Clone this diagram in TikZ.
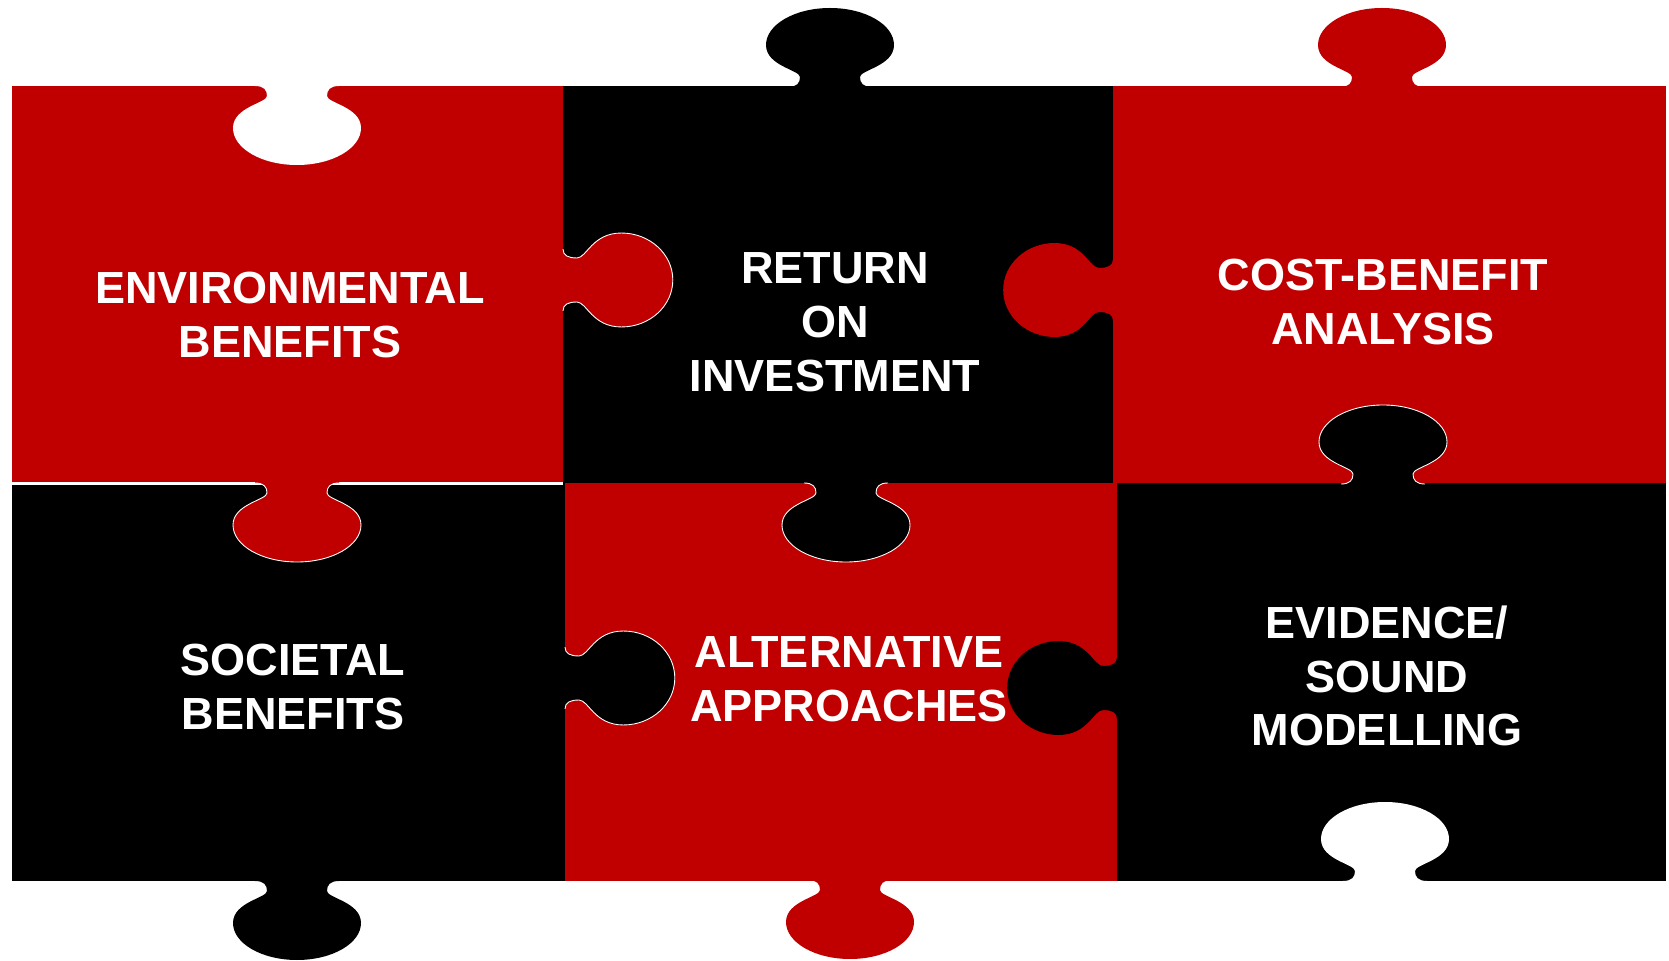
\documentclass[tikz,border=0pt]{standalone}
\usepackage{fontspec}
\setmainfont{Liberation Sans}
\definecolor{pred}{RGB}{192,0,0}
\begin{document}
\begin{tikzpicture}[x=0.01cm,y=-0.01cm,
  lbl/.style={text=white, font=\bfseries\fontsize{12.8}{15.3}\selectfont, align=center, inner sep=0pt},
  kdown/.style={shift={#1}},
  kup/.style={shift={#1}, rotate=180},
  kright/.style={shift={#1}, rotate=90, xscale=0.734, yscale=1.39},
  kleft/.style={shift={#1}, rotate=-90, xscale=0.734, yscale=1.39},
  edge/.style={draw=white, line width=0.25pt}]
\useasboundingbox (0,0) rectangle (1669,961);
\def\knobfill{(-42,-5) -- (-42,0) .. controls (-33,0) and (-30,4) .. (-30,10) .. controls (-30,17) and (-64,21) .. (-64,42) .. controls (-64,62.4) and (-35.3,79) .. (0,79) .. controls (35.3,79) and (64,62.4) .. (64,42) .. controls (64,21) and (30,17) .. (30,10) .. controls (30,4) and (33,0) .. (42,0) -- (42,-5) -- cycle}
\def\knobcurve{(-42,0) .. controls (-33,0) and (-30,4) .. (-30,10) .. controls (-30,17) and (-64,21) .. (-64,42) .. controls (-64,62.4) and (-35.3,79) .. (0,79) .. controls (35.3,79) and (64,62.4) .. (64,42) .. controls (64,21) and (30,17) .. (30,10) .. controls (30,4) and (33,0) .. (42,0)}
% pieces
\fill[pred] (12,86) rectangle (563,483);
\fill[black] (563,86) rectangle (1113,483);
\fill[pred] (1113,86) rectangle (1666,483);
\fill[black] (12,483) rectangle (565,881);
\fill[pred] (565,483) rectangle (1117,881);
\fill[black] (1117,483) rectangle (1666,881);
\draw[white, line width=0.6pt] (12,483.5) -- (563,483.5);
% outer knobs
\begin{scope}[kdown={(297,86)}] \fill[white] \knobfill; \end{scope}
\begin{scope}[kup={(830,87)}] \fill[black] \knobfill; \end{scope}
\begin{scope}[kup={(1382,87)}] \fill[pred] \knobfill; \end{scope}
\begin{scope}[kdown={(297,881)}] \fill[black] \knobfill; \end{scope}
\begin{scope}[kdown={(850,880)}] \fill[pred] \knobfill; \end{scope}
\begin{scope}[kup={(1385,881)}] \fill[white] \knobfill; \end{scope}
% inner knobs
\begin{scope}[kright={(563,280)}] \fill[pred] \knobfill; \draw[edge] \knobcurve; \end{scope}
\begin{scope}[kleft={(1113,290)}] \fill[pred] \knobfill; \end{scope}
\begin{scope}[kdown={(297,483)}] \fill[pred] \knobfill; \draw[edge] \knobcurve; \end{scope}
\begin{scope}[kdown={(846,483)}] \fill[black] \knobfill; \draw[edge] \knobcurve; \end{scope}
\begin{scope}[kup={(1383,484)}] \fill[black] \knobfill; \draw[edge] \knobcurve; \end{scope}
\begin{scope}[kright={(565,678)}] \fill[black] \knobfill; \draw[edge] \knobcurve; \end{scope}
\begin{scope}[kleft={(1117,688)}] \fill[black] \knobfill; \end{scope}
% labels
\node[lbl] (t1) at (290,315) {ENVIRONMENTAL\\BENEFITS};
\node[lbl] (t2) at (835,322) {RETURN\\ON\\INVESTMENT};
\node[lbl] (t3) at (1383,302) {COST-BENEFIT\\ANALYSIS};
\node[lbl] (t4) at (293,687) {SOCIETAL\\BENEFITS};
\node[lbl] (t5) at (849,679) {ALTERNATIVE\\APPROACHES};
\node[lbl] (t6) at (1387,676) {EVIDENCE/\\SOUND\\MODELLING};
\end{tikzpicture}
\end{document}
